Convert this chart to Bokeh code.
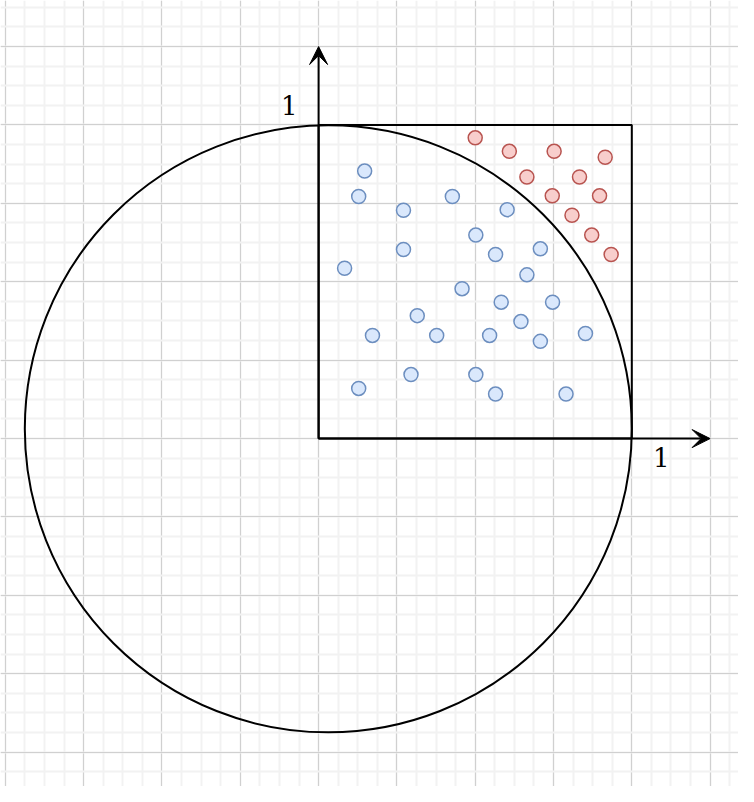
from bokeh.plotting import figure
from bokeh.models import Range1d, Grid, SingleIntervalTicker, Arrow, VeeHead
from bokeh.core.properties import value
from bokeh.embed import file_html
from bokeh.resources import INLINE

# Points inside the unit square (x, y in units)
inside_x = [0.147, 0.128, 0.271, 0.427, 0.602, 0.502, 0.271, 0.565, 0.708, 0.083,
            0.665, 0.458, 0.583, 0.747, 0.315, 0.646, 0.172, 0.377, 0.546, 0.708,
            0.852, 0.295, 0.502, 0.128, 0.565, 0.790]
inside_y = [0.853, 0.772, 0.728, 0.772, 0.730, 0.649, 0.603, 0.587, 0.605, 0.543,
            0.522, 0.478, 0.435, 0.435, 0.392, 0.373, 0.329, 0.329, 0.329, 0.310,
            0.335, 0.204, 0.204, 0.160, 0.142, 0.142]

# Points outside the circle
outside_x = [0.500, 0.609, 0.752, 0.915, 0.665, 0.833, 0.746, 0.897, 0.809, 0.872, 0.934]
outside_y = [0.959, 0.916, 0.916, 0.897, 0.834, 0.834, 0.774, 0.774, 0.712, 0.649, 0.587]

circle_center = [0.031, 0.031]
circle_radius = 0.969
axis_labels = ["1", "1"]

W, H = 738, 786
p = figure(width=W, height=H, output_backend="svg", toolbar_location=None,
           x_range=Range1d(-1.015625, 1.340625), y_range=Range1d(-1.109375, 1.396875),
           x_axis_type=None, y_axis_type=None, min_border=0,
           background_fill_color="white", border_fill_color="white")
p.outline_line_color = None

for dim in (0, 1):
    g = Grid(dimension=dim, ticker=SingleIntervalTicker(interval=0.25, num_minor_ticks=4),
             grid_line_color="#d0d0d0", grid_line_width=1,
             minor_grid_line_color="#f2f2f2", minor_grid_line_width=2)
    p.add_layout(g)

# Circle
p.circle(x=[circle_center[0]], y=[circle_center[1]], radius=circle_radius,
         fill_color=None, line_color="black", line_width=2)

# Unit square
p.quad(left=[0], right=[1], bottom=[0], top=[1], fill_color=None,
       line_color="black", line_width=2)

# Axes arrows
for xe, ye in ((0, 1.25), (1.25, 0)):
    p.add_layout(Arrow(end=VeeHead(size=18, fill_color="black", line_color="black", line_width=1),
                       x_start=0, y_start=0, x_end=xe, y_end=ye,
                       line_color="black", line_width=2))

# Points
p.scatter(x=inside_x, y=inside_y, size=14, fill_color="#dae8fc",
          line_color="#6c8ebf", line_width=1.5)
p.scatter(x=outside_x, y=outside_y, size=14, fill_color="#f8cecc",
          line_color="#b85450", line_width=1.5)

# Labels
p.text(x=[-0.094, 1.094], y=[1.0625, -0.061], text=axis_labels,
       text_font=value("DejaVu Serif"), text_font_size="26px",
       text_align="center", text_baseline="middle", text_color="black")

open("out.html", "w").write(file_html(p, INLINE))
